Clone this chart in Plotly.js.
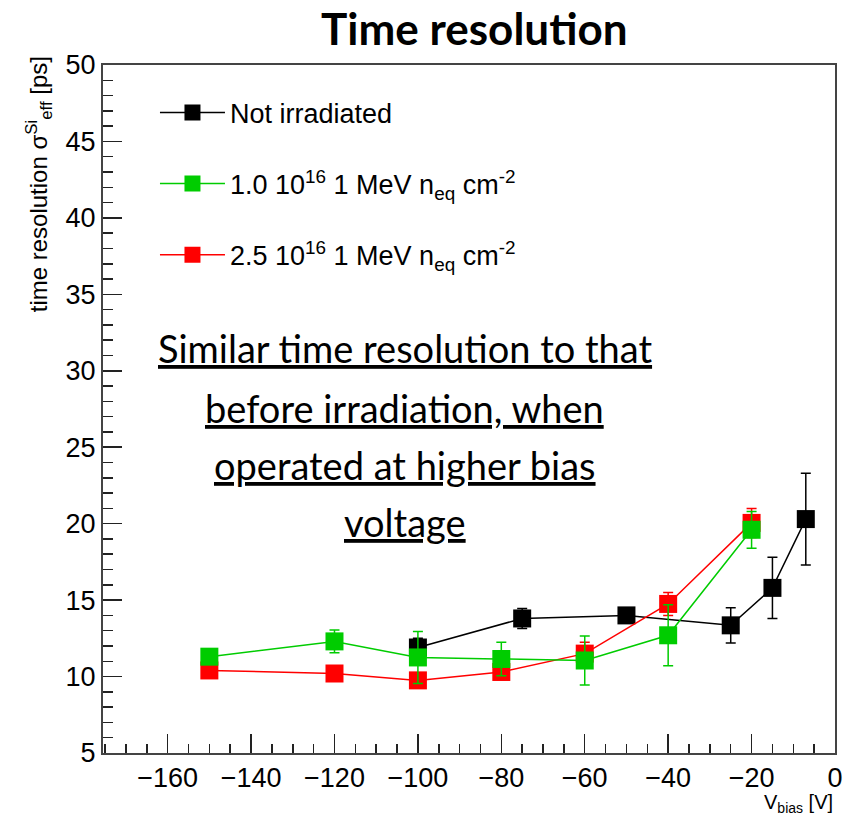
<!DOCTYPE html>
<html>
<head>
<meta charset="utf-8">
<script src="https://cdn.plot.ly/plotly-3.0.1.min.js"></script>
<style>
  html, body { margin: 0; padding: 0; background: #fff; }
  #chart { width: 844px; height: 815px; }
</style>
</head>
<body>
<div id="chart"></div>
<script>
// Bias voltages [V] and time resolution [ps] per sensor fluence
const vbiasNotIrr = [-100, -75, -50, -25, -15, -7];
const sigmaNotIrr = [11.9, 13.8, 14.0, 13.35, 15.8, 20.3];
const errNotIrr   = [0.6, 0.65, 0.3, 1.15, 2.0, 3.0];

const vbiasF10 = [-150, -120, -100, -80, -60, -40, -20];
const sigmaF10 = [11.3, 12.3, 11.25, 11.15, 11.05, 12.7, 19.6];
const errF10   = [0.3, 0.75, 1.7, 1.1, 1.6, 2.0, 1.2];

const vbiasF25 = [-150, -120, -100, -80, -60, -40, -20];
const sigmaF25 = [10.4, 10.2, 9.75, 10.3, 11.5, 14.75, 20.05];
const errF25   = [0.3, 0.3, 0.4, 0.5, 0.75, 0.75, 0.95];

const seriesNames = [
  'Not irradiated',
  '1.0 10<sup>16</sup> 1 MeV n<sub>eq</sub> cm<sup>-2</sup>',
  '2.5 10<sup>16</sup> 1 MeV n<sub>eq</sub> cm<sup>-2</sup>'
];

const noteLines = [
  'Similar time resolution to that',
  'before irradiation, when',
  'operated at higher bias',
  'voltage'
];

const tickFont = { family: 'Liberation Sans, Arial, sans-serif', size: 27, color: '#000' };

function series(x, y, err, name, color, rank) {
  return {
    type: 'scatter', mode: 'lines+markers',
    x: x, y: y, name: name,
    legendgroup: name, legendrank: rank,
    line: { color: color, width: 1.5 },
    marker: { symbol: 'square', size: 18, color: color },
    error_y: { type: 'data', array: err, visible: true, color: color, thickness: 1.5, width: 5 }
  };
}

const traces = [
  series(vbiasNotIrr, sigmaNotIrr, errNotIrr, seriesNames[0], '#000000', 1),
  series(vbiasF25, sigmaF25, errF25, seriesNames[2], '#ff0000', 3),
  series(vbiasF10, sigmaF10, errF10, seriesNames[1], '#00cc00', 2)
];

const noteY = [0.589, 0.502, 0.419, 0.336];
const annotations = noteLines.map((t, i) => ({
  text: '<u>' + t + '</u>',
  xref: 'paper', yref: 'paper',
  x: 0.412, y: noteY[i], xanchor: 'center', yanchor: 'middle',
  showarrow: false,
  font: { family: 'Lato, sans-serif', size: 38, color: '#000' }
}));

annotations.push({
  text: 'time resolution σ<sup>Si</sup><sub>eff</sub> [ps]',
  xref: 'paper', yref: 'paper',
  x: -0.088, y: 1.015, xanchor: 'center', yanchor: 'top',
  textangle: -90, showarrow: false,
  font: { family: 'Liberation Sans, Arial, sans-serif', size: 24, color: '#000' }
});

annotations.push({
  text: 'V<sub>bias</sub> [V]',
  xref: 'paper', yref: 'paper',
  x: 1.0, y: -0.053, xanchor: 'right', yanchor: 'top',
  showarrow: false,
  font: { family: 'Liberation Sans, Arial, sans-serif', size: 20, color: '#000' }
});

const layout = {
  width: 844, height: 815,
  margin: { l: 103, r: 9, t: 65, b: 62 },
  paper_bgcolor: '#fff', plot_bgcolor: '#fff',
  title: {
    text: '<b>Time resolution</b>',
    x: 0.562, xanchor: 'center', xref: 'container',
    y: 0.964, yanchor: 'middle', yref: 'container',
    font: { family: 'Lato, sans-serif', size: 44, color: '#000' }
  },
  showlegend: true,
  legend: {
    x: 0.071, y: 0.966, xanchor: 'left', yanchor: 'top',
    bgcolor: 'rgba(0,0,0,0)', borderwidth: 0,
    tracegroupgap: 33, itemwidth: 65,
    font: { family: 'Liberation Sans, Arial, sans-serif', size: 27, color: '#000' }
  },
  xaxis: {
    range: [-175.5, 0], dtick: 20, tick0: 0,
    showgrid: false, zeroline: false,
    showline: true, linecolor: '#444', linewidth: 2, mirror: true,
    ticks: 'inside', ticklen: 19, tickwidth: 1.5, tickcolor: '#222',
    minor: { dtick: 5, ticks: 'inside', ticklen: 9, tickwidth: 1.5, tickcolor: '#222', showgrid: false },
    tickfont: tickFont
  },
  yaxis: {
    range: [5, 50], dtick: 5, tick0: 0,
    showgrid: false, zeroline: false,
    showline: true, linecolor: '#444', linewidth: 2, mirror: true,
    ticks: 'inside', ticklen: 19, tickwidth: 1.5, tickcolor: '#222',
    minor: { dtick: 1, ticks: 'inside', ticklen: 10, tickwidth: 1.5, tickcolor: '#222', showgrid: false },
    tickfont: tickFont
  },
  annotations: annotations
};

Plotly.newPlot('chart', traces, layout, { staticPlot: true, displayModeBar: false });
</script>
</body>
</html>
